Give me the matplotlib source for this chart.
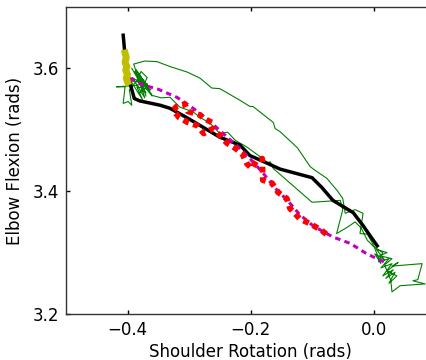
import matplotlib
matplotlib.use("Agg")
import matplotlib.pyplot as plt

# Joint-space trajectories: shoulder rotation vs elbow flexion (rads)
demo_x = [-0.393, -0.370, -0.388, -0.365, -0.383, -0.360, -0.380, -0.372, -0.392, -0.362,
          -0.385, -0.375, -0.395, -0.368, -0.390,
          -0.418, -0.404, -0.407, -0.399, -0.393, -0.397, -0.385, -0.378, -0.368, -0.380,
          -0.372, -0.360, -0.345, -0.331, -0.315, -0.293, -0.282, -0.266, -0.250, -0.237,
          -0.225, -0.206, -0.180, -0.173, -0.168, -0.163, -0.100, -0.054, -0.050, -0.060,
          -0.043, -0.030, -0.020, -0.010, 0.000, 0.015, 0.008, 0.025, 0.012, 0.030,
          0.015, 0.032, 0.020, 0.035, 0.025, 0.038, 0.022, 0.040, 0.030, 0.079,
          0.072, 0.064, 0.084, 0.043, 0.030, 0.028, 0.018, 0.030, 0.010, 0.022,
          0.005, 0.018, 0.002, 0.012, 0.000,
          -0.010, -0.022, -0.017, -0.030, -0.046, -0.050, -0.059, -0.076, -0.095, -0.103,
          -0.124, -0.152, -0.160, -0.163, -0.196, -0.201, -0.217, -0.250, -0.263, -0.282,
          -0.303, -0.331, -0.352, -0.372, -0.390, -0.375, -0.386, -0.366, -0.382, -0.370]
demo_y = [3.600, 3.560, 3.595, 3.570, 3.590, 3.555, 3.580, 3.552, 3.585, 3.565,
          3.570, 3.548, 3.580, 3.575, 3.572,
          3.570, 3.570, 3.543, 3.546, 3.540, 3.565, 3.580, 3.595, 3.585, 3.560,
          3.575, 3.556, 3.552, 3.553, 3.537, 3.529, 3.520, 3.511, 3.494, 3.496,
          3.483, 3.472, 3.453, 3.445, 3.448, 3.437, 3.382, 3.385, 3.370, 3.331,
          3.341, 3.350, 3.340, 3.320, 3.310, 3.300, 3.285, 3.290, 3.275, 3.282,
          3.262, 3.272, 3.258, 3.268, 3.250, 3.262, 3.270, 3.284, 3.278, 3.282,
          3.256, 3.254, 3.249, 3.246, 3.236, 3.255, 3.280, 3.290, 3.295, 3.300,
          3.305, 3.288, 3.298, 3.282, 3.312,
          3.330, 3.331, 3.364, 3.370, 3.364, 3.388, 3.401, 3.421, 3.434, 3.440,
          3.471, 3.497, 3.502, 3.512, 3.538, 3.538, 3.548, 3.567, 3.568, 3.584,
          3.594, 3.603, 3.611, 3.612, 3.607, 3.562, 3.598, 3.568, 3.592, 3.555]

mean_x = [-0.407, -0.404, -0.401, -0.396, -0.389, -0.380, -0.347, -0.331, -0.304, -0.277,
          -0.250, -0.217, -0.201, -0.176, -0.152, -0.100, -0.084, -0.066, -0.033, -0.017,
          -0.006, 0.006]
mean_y = [3.654, 3.620, 3.592, 3.576, 3.551, 3.547, 3.540, 3.535, 3.520, 3.504,
          3.488, 3.475, 3.458, 3.447, 3.436, 3.422, 3.406, 3.385, 3.365, 3.344,
          3.328, 3.311]

plan_x = [-0.396, -0.375, -0.350, -0.320, -0.300, -0.280, -0.260, -0.240, -0.220, -0.200,
          -0.180, -0.160, -0.140, -0.120, -0.100, -0.080, -0.065, -0.054, -0.038, -0.022,
          -0.011, 0.006, 0.019]
plan_y = [3.584, 3.573, 3.566, 3.553, 3.540, 3.525, 3.508, 3.490, 3.472, 3.452,
          3.430, 3.405, 3.385, 3.362, 3.345, 3.333, 3.325, 3.321, 3.315, 3.305,
          3.298, 3.290, 3.284]

exec_x = [-0.263, -0.277, -0.282, -0.302, -0.307, -0.320, -0.326, -0.316, -0.302, -0.287,
          -0.276, -0.261, -0.250, -0.238, -0.225, -0.214, -0.206, -0.198, -0.190, -0.181,
          -0.180, -0.165, -0.155, -0.141, -0.136, -0.128, -0.120, -0.103, -0.084, -0.071]
exec_y = [3.512, 3.519, 3.524, 3.530, 3.542, 3.538, 3.532, 3.520, 3.512, 3.507,
          3.494, 3.502, 3.491, 3.478, 3.470, 3.462, 3.445, 3.437, 3.450, 3.453,
          3.418, 3.413, 3.398, 3.388, 3.372, 3.364, 3.355, 3.347, 3.336, 3.325]

start_x = [-0.404, -0.402, -0.404, -0.401, -0.403, -0.400, -0.402, -0.400]
start_y = [3.625, 3.618, 3.610, 3.603, 3.597, 3.590, 3.584, 3.578]

x_ticks = [-0.4, -0.2, 0.0]
y_ticks = [3.2, 3.4, 3.6]

fig = plt.figure(figsize=(4.27, 3.60), dpi=100)
ax = fig.add_axes([0.1546, 0.1278, 0.8642, 0.8528])

ax.plot(demo_x, demo_y, color="g", lw=0.8, zorder=2)
ax.plot(mean_x, mean_y, color="k", lw=2.5, zorder=3)
ax.plot(plan_x, plan_y, color="m", lw=2.2, dashes=(1.8, 1.4), zorder=4)
ax.plot(exec_x, exec_y, color="r", lw=4.2, dashes=(1.0, 0.8), zorder=5)
ax.plot(start_x, start_y, color="y", lw=5, zorder=6)

ax.set_xlim(-0.5, 0.1)
ax.set_ylim(3.2, 3.7)
ax.set_xticks(x_ticks)
ax.set_yticks(y_ticks)
ax.set_xticklabels([f"{v:.1f}".replace("-", "\u2212") for v in x_ticks])
ax.set_yticklabels([f"{v:.1f}" for v in y_ticks])
ax.tick_params(direction="in", length=3, width=1, labelsize=12,
               top=True, right=True, pad=5)
for s in ax.spines.values():
    s.set_linewidth(1.0)
    s.set_color("#333333")

ax.set_xlabel("Shoulder Rotation (rads)", fontsize=12, labelpad=3)
ax.set_ylabel("Elbow Flexion (rads)", fontsize=12, labelpad=6)

fig.savefig("out.png", dpi=100)
